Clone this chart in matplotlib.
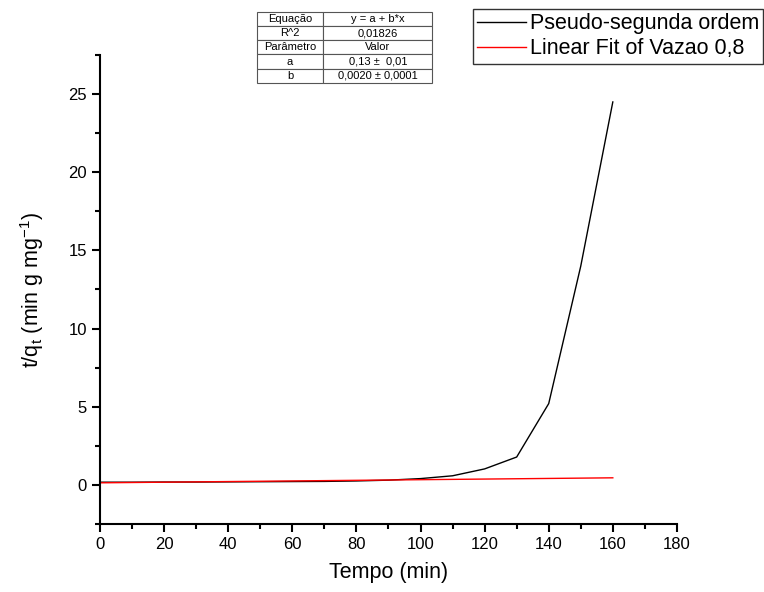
import numpy as np
import matplotlib
matplotlib.use("Agg")
import matplotlib.pyplot as plt
from matplotlib.ticker import MultipleLocator

plt.rcParams['font.family'] = ['Liberation Sans', 'DejaVu Sans']
plt.rcParams['mathtext.default'] = 'regular'

# dados
tempo = [0, 10, 20, 30, 40, 50, 60, 70, 80, 90, 100, 110, 120, 130, 140, 150, 160]
t_qt = [0.17, 0.17, 0.18, 0.18, 0.19, 0.20, 0.21, 0.22, 0.25, 0.30, 0.40, 0.58, 1.02, 1.78, 5.2, 14.0, 24.5]
fit_x = [0, 160]
fit_y = [0.13, 0.45]

tab_rows = [["Equação", "y = a + b*x"],
            ["R^2", "0,01826"],
            ["Parâmetro", "Valor"],
            ["a", "0,13 ±  0,01"],
            ["b", "0,0020 ± 0,0001"]]

fig = plt.figure(figsize=(7.64, 5.92), dpi=100)
ax = fig.add_axes([0.131, 0.115, 0.755, 0.792])

l1, = ax.plot(tempo, t_qt, color='black', lw=1.0, label='Pseudo-segunda ordem')
l2, = ax.plot(fit_x, fit_y, color='red', lw=1.0, label='Linear Fit of Vazao 0,8')

ax.set_xlim(0, 180)
ax.set_ylim(-2.5, 27.5)
ax.xaxis.set_major_locator(MultipleLocator(20))
ax.xaxis.set_minor_locator(MultipleLocator(10))
ax.set_yticks([0, 5, 10, 15, 20, 25])
ax.yaxis.set_minor_locator(MultipleLocator(2.5))
for s in ['top', 'right']:
    ax.spines[s].set_visible(False)
for s in ['left', 'bottom']:
    ax.spines[s].set_linewidth(1.5)
ax.tick_params(which='major', direction='out', length=6, width=1.5, labelsize=12)
ax.tick_params(which='minor', direction='out', length=3.5, width=1.5)

ax.set_xlabel('Tempo (min)', fontsize=15.5, labelpad=7)
ax.set_ylabel('t/q$_t$ (min g mg$^{-1}$)', fontsize=15.5, labelpad=16)

# legenda fora do eixo
leg = fig.legend(handles=[l1, l2], loc='upper right', bbox_to_anchor=(0.999, 0.985),
                 fontsize=15.5, frameon=True, fancybox=False, edgecolor='black',
                 handlelength=2.3, handletextpad=0.15, borderpad=0.2, labelspacing=0.2,
                 borderaxespad=0)
leg.get_frame().set_linewidth(1.0)

# tabela do ajuste
tab = fig.add_axes([0.336, 0.86, 0.23, 0.12])
tab.axis('off')
t = tab.table(cellText=tab_rows, colWidths=[0.38, 0.62], cellLoc='center',
              bbox=[0, 0, 1, 1])
t.auto_set_font_size(False)
for (r, c), cell in t.get_celld().items():
    cell.set_fontsize(8)
    cell.set_edgecolor('#555555')
    cell.set_linewidth(0.8)

fig.savefig('out.png', dpi=100)
